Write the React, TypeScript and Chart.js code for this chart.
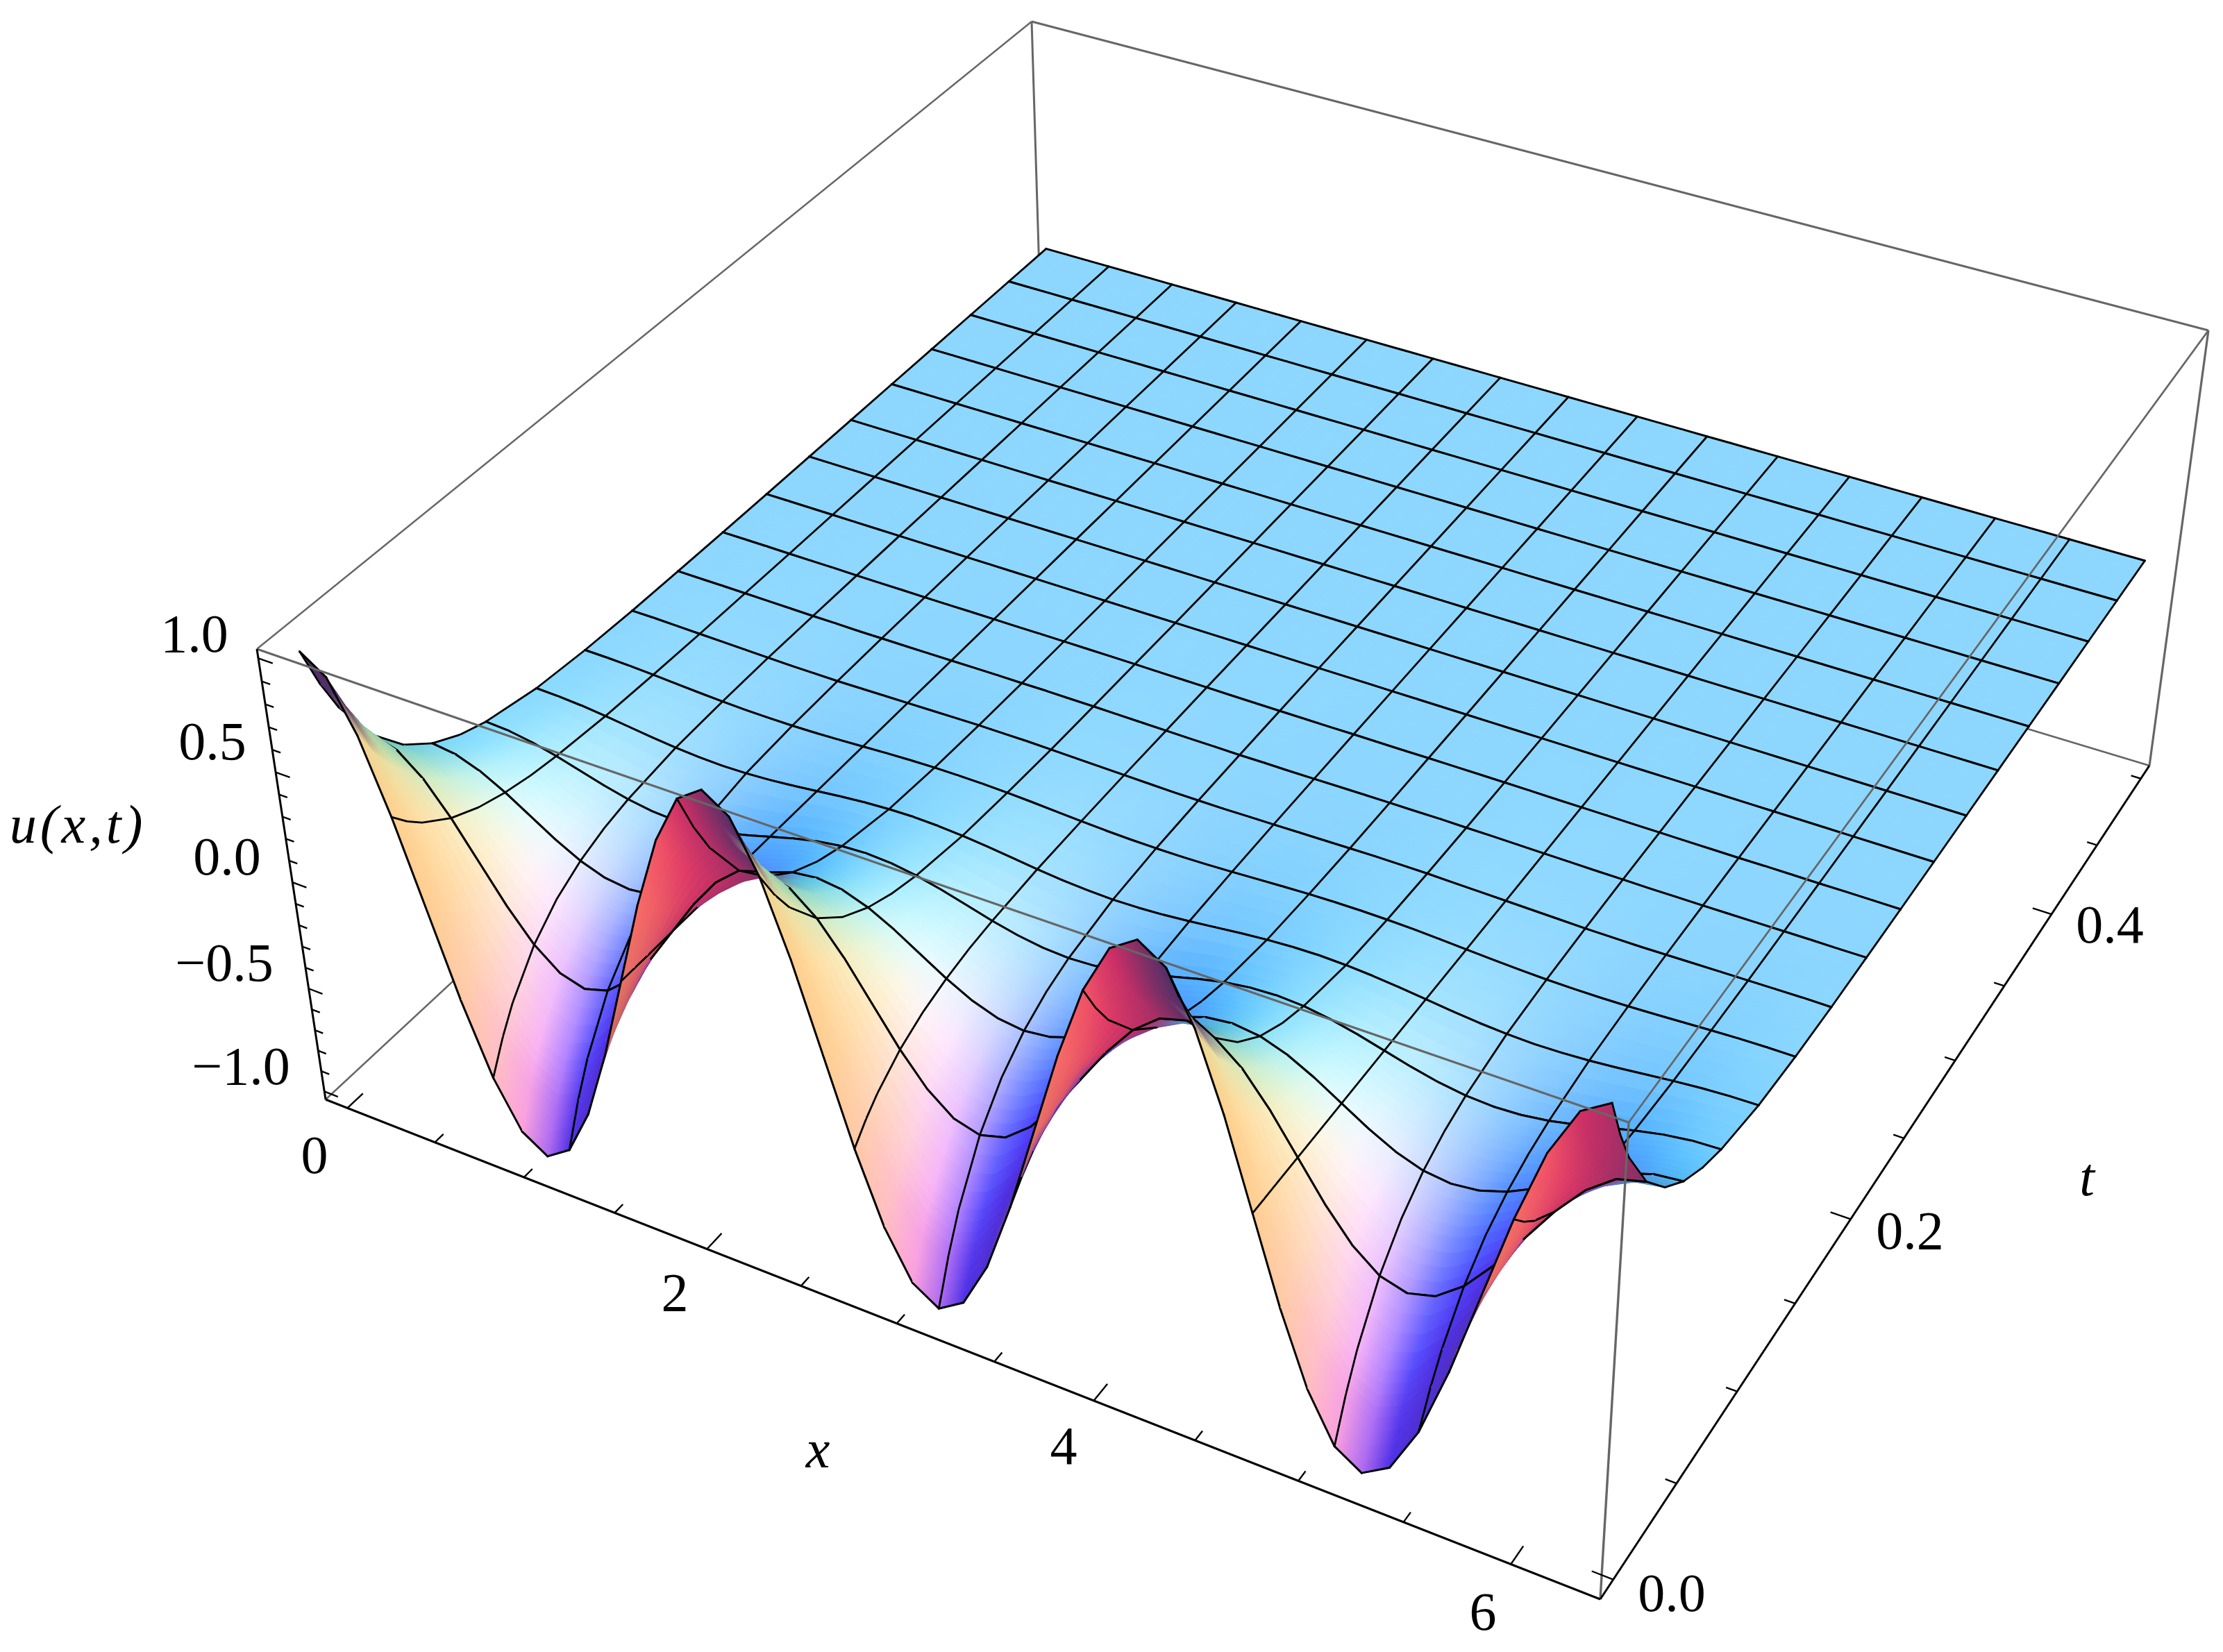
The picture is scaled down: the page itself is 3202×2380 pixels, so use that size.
import React, { useEffect, useRef } from "react";
import { Chart, registerables } from "chart.js";

Chart.register(...registerables);

// ---------- data ----------
const tValues = [0, 0.0078125, 0.015625, 0.03125, 0.046875, 0.0625, 0.078125, 0.09375, 0.125, 0.15625, 0.1875, 0.21875, 0.25, 0.28125, 0.3125, 0.34375, 0.375, 0.40625, 0.4375, 0.46875, 0.5];

// u over one spatial period (2*pi/3), 16 samples, at each t
const u_t00 = [1, 0.924, 0.707, 0.383, 0, -0.383, -0.707, -0.924, -1, -0.924, -0.707, -0.383, 0, 0.383, 0.707, 0.924];
const u_t01 = [0.81, 0.748, 0.573, 0.31, 0, -0.31, -0.573, -0.748, -0.81, -0.748, -0.573, -0.31, 0, 0.31, 0.573, 0.748];
const u_t02 = [0.656, 0.606, 0.464, 0.251, 0, -0.251, -0.464, -0.606, -0.656, -0.606, -0.464, -0.251, 0, 0.251, 0.464, 0.606];
const u_t03 = [0.43, 0.397, 0.304, 0.165, 0, -0.165, -0.304, -0.397, -0.43, -0.397, -0.304, -0.165, 0, 0.165, 0.304, 0.397];
const u_t04 = [0.282, 0.261, 0.199, 0.108, 0, -0.108, -0.199, -0.261, -0.282, -0.261, -0.199, -0.108, 0, 0.108, 0.199, 0.261];
const u_t05 = [0.185, 0.171, 0.131, 0.071, 0, -0.071, -0.131, -0.171, -0.185, -0.171, -0.131, -0.071, 0, 0.071, 0.131, 0.171];
const u_t06 = [0.121, 0.112, 0.086, 0.046, 0, -0.046, -0.086, -0.112, -0.121, -0.112, -0.086, -0.046, 0, 0.046, 0.086, 0.112];
const u_t07 = [0.08, 0.074, 0.057, 0.031, 0, -0.031, -0.057, -0.074, -0.08, -0.074, -0.057, -0.031, 0, 0.031, 0.057, 0.074];
const u_t08 = [0.034, 0.031, 0.024, 0.013, 0, -0.013, -0.024, -0.031, -0.034, -0.031, -0.024, -0.013, 0, 0.013, 0.024, 0.031];
const u_t09 = [0.015, 0.014, 0.011, 0.006, 0, -0.006, -0.011, -0.014, -0.015, -0.014, -0.011, -0.006, 0, 0.006, 0.011, 0.014];
const u_t10 = [0.006, 0.006, 0.004, 0.002, 0, -0.002, -0.004, -0.006, -0.006, -0.006, -0.004, -0.002, 0, 0.002, 0.004, 0.006];
const u_t11 = [0.003, 0.002, 0.002, 0.001, 0, -0.001, -0.002, -0.002, -0.003, -0.002, -0.002, -0.001, 0, 0.001, 0.002, 0.002];
const u_t12 = [0.001, 0.001, 0.001, 0, 0, 0, -0.001, -0.001, -0.001, -0.001, -0.001, 0, 0, 0, 0.001, 0.001];
const u_t13 = [0, 0, 0, 0, 0, 0, 0, 0, 0, 0, 0, 0, 0, 0, 0, 0];
const u_t14 = [0, 0, 0, 0, 0, 0, 0, 0, 0, 0, 0, 0, 0, 0, 0, 0];
const u_t15 = [0, 0, 0, 0, 0, 0, 0, 0, 0, 0, 0, 0, 0, 0, 0, 0];
const u_t16 = [0, 0, 0, 0, 0, 0, 0, 0, 0, 0, 0, 0, 0, 0, 0, 0];
const u_t17 = [0, 0, 0, 0, 0, 0, 0, 0, 0, 0, 0, 0, 0, 0, 0, 0];
const u_t18 = [0, 0, 0, 0, 0, 0, 0, 0, 0, 0, 0, 0, 0, 0, 0, 0];
const u_t19 = [0, 0, 0, 0, 0, 0, 0, 0, 0, 0, 0, 0, 0, 0, 0, 0];
const u_t20 = [0, 0, 0, 0, 0, 0, 0, 0, 0, 0, 0, 0, 0, 0, 0, 0];
const uRows = [u_t00, u_t01, u_t02, u_t03, u_t04, u_t05, u_t06, u_t07, u_t08, u_t09, u_t10, u_t11, u_t12, u_t13, u_t14, u_t15, u_t16, u_t17, u_t18, u_t19, u_t20];

const uTicks = [-1, -0.9, -0.8, -0.7, -0.6, -0.5, -0.4, -0.3, -0.2, -0.1, 0, 0.1, 0.2, 0.3, 0.4, 0.5, 0.6, 0.7, 0.8, 0.9, 1];
const xTicks = [0, 0.5, 1, 1.5, 2, 2.5, 3, 3.5, 4, 4.5, 5, 5.5, 6];
const tTicks = [0, 0.05, 0.1, 0.15, 0.2, 0.25, 0.3, 0.35, 0.4, 0.45, 0.5];

// ---------- ranges / camera ----------
const TWO_PI = Math.PI * 2;
const SAMPLES = 48;
const MESH_T = 0.03125;
const xR = [-0.1257, 6.409];
const tR = [-0.01, 0.51];
const uR = [-1.04, 1.04];
const BOX_H = 0.4;

// box corner -> image position, used to calibrate the projective camera
const corners: [number, number, number, number, number][] = [
  [0, 0, 0, 469, 1584], [1, 0, 0, 2305, 2304], [1, 1, 0, 3096, 1103],
  [0, 0, 1, 370, 935], [1, 0, 1, 2346, 1617], [1, 1, 1, 3181, 476], [0, 1, 1, 1486, 31],
];

function solve(A: number[][], b: number[]) {
  const n = b.length;
  const M = A.map((r, i) => [...r, b[i]]);
  for (let c = 0; c < n; c++) {
    let p = c;
    for (let r = c + 1; r < n; r++) if (Math.abs(M[r][c]) > Math.abs(M[p][c])) p = r;
    [M[c], M[p]] = [M[p], M[c]];
    for (let r = 0; r < n; r++) {
      if (r === c) continue;
      const f = M[r][c] / M[c][c];
      for (let k = c; k <= n; k++) M[r][k] -= f * M[c][k];
    }
  }
  return M.map((r, i) => r[n] / r[i]);
}

function calibrate() {
  const rows: number[][] = [];
  const rhs: number[] = [];
  for (const [x, y, z, X, Y] of corners) {
    rows.push([x, y, z, 1, 0, 0, 0, 0, -X * x, -X * y, -X * z]);
    rhs.push(X);
    rows.push([0, 0, 0, 0, x, y, z, 1, -Y * x, -Y * y, -Y * z]);
    rhs.push(Y);
  }
  const AtA = Array.from({ length: 11 }, () => new Array(11).fill(0));
  const Atb = new Array(11).fill(0);
  rows.forEach((r, i) => {
    for (let a = 0; a < 11; a++) {
      Atb[a] += r[a] * rhs[i];
      for (let b = 0; b < 11; b++) AtA[a][b] += r[a] * r[b];
    }
  });
  return solve(AtA, Atb);
}
const P = calibrate();

const nx = (x: number) => (x - xR[0]) / (xR[1] - xR[0]);
const ny = (t: number) => (t - tR[0]) / (tR[1] - tR[0]);
const nz = (u: number) => (u - uR[0]) / (uR[1] - uR[0]);

function rawProject(a: number, b: number, c: number) {
  const w = P[8] * a + P[9] * b + P[10] * c + 1;
  return { x: (P[0] * a + P[1] * b + P[2] * c + P[3]) / w, y: (P[4] * a + P[5] * b + P[6] * c + P[7]) / w };
}
const residuals = corners.map(([a, b, c, X, Y]) => {
  const p = rawProject(a, b, c);
  return [a, b, c, X - p.x, Y - p.y];
});
function projectN(a: number, b: number, c: number) {
  const p = rawProject(a, b, c);
  let x = p.x, y = p.y;
  for (const [ra, rb, rc, dx, dy] of residuals) {
    const wt = (ra ? a : 1 - a) * (rb ? b : 1 - b) * (rc ? c : 1 - c);
    x += wt * dx;
    y += wt * dy;
  }
  return { x, y };
}
const project = (x: number, t: number, u: number) => projectN(nx(x), ny(t), nz(u));

// ---------- lighting (three coloured lights + ambient) ----------
const cam = [1.3, -2.4, 2];
const norm = (v: number[]) => {
  const l = Math.hypot(v[0], v[1], v[2]) || 1;
  return [v[0] / l, v[1] / l, v[2] / l];
};
const dot = (a: number[], b: number[]) => a[0] * b[0] + a[1] * b[1] + a[2] * b[2];
const cross = (a: number[], b: number[]) => [a[1] * b[2] - a[2] * b[1], a[2] * b[0] - a[0] * b[2], a[0] * b[1] - a[1] * b[0]];
const vw = norm(cam);
const vu = norm([-vw[0] * vw[2], -vw[1] * vw[2], 1 - vw[2] * vw[2]]);
const vr = cross(vu, vw);
const lights = [norm([1.5, -0.5, 2]), norm([1.5, 1.5, 2]), norm([-0.5, 1.5, 2])];
const ambient = [0.312, 0.188, 0.4];

const uAt = (i: number, j: number) => uRows[j][i % 16];
const xAt = (i: number) => (i / SAMPLES) * TWO_PI;

function colorAt(i: number, j: number) {
  const ia = Math.max(i - 1, 0), ib = Math.min(i + 1, SAMPLES);
  const ja = Math.max(j - 1, 0), jb = Math.min(j + 1, tValues.length - 1);
  const dzdx = ((nz(uAt(ib, j)) - nz(uAt(ia, j))) * BOX_H) / (nx(xAt(ib)) - nx(xAt(ia)));
  const dzdy = ((nz(uAt(i, jb)) - nz(uAt(i, ja))) * BOX_H) / (ny(tValues[jb]) - ny(tValues[ja]));
  const n0 = norm([-dzdx, -dzdy, 1]);
  const pos = [nx(xAt(i)) - 0.5, ny(tValues[j]) - 0.5, (nz(uAt(i, j)) - 0.5) * BOX_H];
  const v = [cam[0] - pos[0], cam[1] - pos[1], cam[2] - pos[2]];
  const flip = dot(n0, v) < 0;
  // the shaded tilt is softened on the slope falling away from a ridge (cream rather than olive)
  const soften = dzdx < 0 && dzdy < 0 ? 1 - 0.55 * Math.min(1, -dzdx / 2) : 1;
  let n = norm([-dzdx, -dzdy * soften, 1]);
  if (flip) n = [-n[0], -n[1], -n[2]];
  const nv = [dot(n, vr), dot(n, vu), dot(n, vw)];
  return lights.map((l, k) => Math.min(1, ambient[k] + 0.8 * Math.max(0, dot(nv, l))) * 255);
}

const isMeshT = (t: number) => Math.abs(t / MESH_T - Math.round(t / MESH_T)) < 1e-6;
const rgb = (c: number[]) => `rgb(${c[0] | 0},${c[1] | 0},${c[2] | 0})`;
const mix = (a: number[], b: number[], s: number) => a.map((v, k) => v + (b[k] - v) * s);
const lerpP = (a: any, b: any, s: number) => ({ x: a.x + (b.x - a.x) * s, y: a.y + (b.y - a.y) * s });

const BANDS = 4;
const surfacePlugin = {
  id: "surface",
  afterDatasetDraw(chart: any, args: any) {
    const ds = chart.data.datasets[args.index];
    if (ds.stripIndex === undefined) return;
    const j = ds.stripIndex;
    const pts = args.meta.data;
    const ctx = chart.ctx;
    const meshF = isMeshT(tValues[j]);
    const meshB = isMeshT(tValues[j + 1]);
    ctx.save();
    ctx.lineCap = "round";
    const black = (a: any, b: any, w: number) => {
      ctx.strokeStyle = "#000";
      ctx.lineWidth = w;
      ctx.beginPath();
      ctx.moveTo(a.x, a.y);
      ctx.lineTo(b.x, b.y);
      ctx.stroke();
    };
    for (let i = 0; i < SAMPLES; i++) {
      const a = pts[2 * i], b = pts[2 * i + 1], c = pts[2 * i + 3], d = pts[2 * i + 2];
      const cA = colorAt(i, j), cB = colorAt(i, j + 1), cC = colorAt(i + 1, j + 1), cD = colorAt(i + 1, j);
      for (let s = 0; s < BANDS; s++) {
        const s0 = s / BANDS, s1 = (s + 1) / BANDS, sm = (s0 + s1) / 2;
        const l0 = lerpP(a, b, s0), l1 = lerpP(a, b, s1), r0 = lerpP(d, c, s0), r1 = lerpP(d, c, s1);
        const gl = lerpP(a, b, sm), gr = lerpP(d, c, sm);
        // colour isolines run along the x = const edges of the cell
        const ex = (l1.x - l0.x + r1.x - r0.x) / 2, ey = (l1.y - l0.y + r1.y - r0.y) / 2;
        const nxp = -ey, nyp = ex;
        const q = ((gr.x - gl.x) * nxp + (gr.y - gl.y) * nyp) / (nxp * nxp + nyp * nyp || 1);
        const g = ctx.createLinearGradient(gl.x, gl.y, gl.x + nxp * q, gl.y + nyp * q);
        g.addColorStop(0, rgb(mix(cA, cB, sm)));
        g.addColorStop(1, rgb(mix(cD, cC, sm)));
        ctx.fillStyle = g;
        ctx.strokeStyle = g;
        ctx.lineWidth = 1;
        ctx.beginPath();
        ctx.moveTo(l0.x, l0.y);
        ctx.lineTo(l1.x, l1.y);
        ctx.lineTo(r1.x, r1.y);
        ctx.lineTo(r0.x, r0.y);
        ctx.closePath();
        ctx.fill();
        ctx.stroke();
      }
      if (i % 3 === 0) black(a, b, 2.8);
      if (i + 1 === SAMPLES) black(d, c, 2.8);
      if (meshF) black(a, d, 3);
      if (meshB) black(b, c, 3);
    }
    ctx.restore();
  },
  afterDraw(chart: any) {
    const ctx = chart.ctx;
    ctx.save();
    ctx.fillStyle = "#000";
    ctx.textAlign = "center";
    ctx.textBaseline = "middle";
    ctx.font = "78px 'Liberation Serif'";
    for (const [txt, x, y] of tickLabels) ctx.fillText(txt, x, y);
    ctx.font = "italic 78px 'Liberation Serif'";
    (ctx as any).letterSpacing = "5px";
    ctx.fillText("u(x,t)", 112, 1193);
    (ctx as any).letterSpacing = "0px";
    ctx.fillText("x", 1178, 2093);
    ctx.fillText("t", 3006, 1701);
    ctx.restore();
  },
};

const tickLabels: [string, number, number][] = [
  ["1.0", 280, 919], ["0.5", 306, 1074], ["0.0", 327, 1240], ["\u22120.5", 323, 1393], ["\u22121.0", 347, 1542],
  ["0", 453, 1670], ["2", 972, 1868], ["4", 1532, 2089], ["6", 2136, 2328],
  ["0.0", 2408, 2301], ["0.2", 2751, 1779], ["0.4", 3039, 1338],
];

function lineSet(data: any[], color: string, width: number, order: number) {
  return { type: "scatter", data, showLine: true, borderColor: color, borderWidth: width, pointRadius: 0, fill: false, order };
}

function buildDatasets() {
  const sets: any[] = [];
  const GRAY = "#666666";
  const c = (a: number, b: number, d: number) => projectN(a, b, d);
  // back / hidden edges, behind the surface
  sets.push(lineSet([c(0, 0, 0), c(0, 1, 0)], GRAY, 2.4, 1000));
  sets.push(lineSet([c(0, 1, 0), c(1, 1, 0)], GRAY, 2.6, 1000));
  sets.push(lineSet([c(0, 1, 0), c(0, 1, 1)], GRAY, 3, 1000));
  sets.push(lineSet([c(0, 0, 1), c(0, 1, 1)], GRAY, 2.4, 1000));
  sets.push(lineSet([c(0, 1, 1), c(1, 1, 1)], GRAY, 3, 1000));
  sets.push(lineSet([c(1, 1, 0), c(1, 1, 1)], GRAY, 3.2, 1000));
  // surface strips, far strip drawn first
  for (let j = 0; j < tValues.length - 1; j++) {
    const data: any[] = [];
    for (let i = 0; i <= SAMPLES; i++) {
      data.push(project(xAt(i), tValues[j], uAt(i, j)));
      data.push(project(xAt(i), tValues[j + 1], uAt(i, j + 1)));
    }
    sets.push({ type: "scatter", data, showLine: false, pointRadius: 0, order: 10 + j, stripIndex: j });
  }
  // front edges over the surface
  sets.push(lineSet([c(0, 0, 1), c(1, 0, 1)], GRAY, 3.2, 1));
  sets.push(lineSet([c(1, 0, 1), c(1, 1, 1)], GRAY, 2.8, 1));
  sets.push(lineSet([c(1, 0, 0), c(1, 0, 1)], GRAY, 3.4, 1));
  // axes with ticks
  sets.push(lineSet([c(0, 0, 0), c(0, 0, 1)], "#000", 3, 0));
  sets.push(lineSet([c(0, 0, 0), c(1, 0, 0)], "#000", 3, 0));
  sets.push(lineSet([c(1, 0, 0), c(1, 1, 0)], "#000", 3, 0));
  for (const u of uTicks) {
    const major = Math.abs(u * 2 - Math.round(u * 2)) < 1e-6;
    sets.push(lineSet([c(0, 0, nz(u)), c(major ? 0.012 : 0.007, 0, nz(u))], "#000", 2.4, 0));
  }
  for (const x of xTicks) {
    const major = Number.isInteger(x / 2);
    sets.push(lineSet([c(nx(x), 0, 0), c(nx(x), major ? 0.018 : 0.01, 0)], "#000", 2.4, 0));
  }
  for (const t of tTicks) {
    const major = Math.abs(t * 5 - Math.round(t * 5)) < 1e-6;
    sets.push(lineSet([c(1, ny(t), 0), c(major ? 0.985 : 0.992, ny(t), 0)], "#000", 2.4, 0));
  }
  return sets;
}

export default function App() {
  const ref = useRef<HTMLCanvasElement>(null);
  useEffect(() => {
    const chart = new Chart(ref.current as HTMLCanvasElement, {
      type: "scatter",
      data: { datasets: buildDatasets() },
      options: {
        responsive: false,
        animation: false,
        devicePixelRatio: 1,
        layout: { padding: 0 },
        plugins: { legend: { display: false }, tooltip: { enabled: false }, title: { display: false } },
        scales: {
          x: { type: "linear", min: 0, max: 3202, display: false },
          y: { type: "linear", min: 0, max: 2380, reverse: true, display: false },
        },
      },
      plugins: [surfacePlugin],
    } as any);
    return () => chart.destroy();
  }, []);
  return (
    <canvas
      ref={ref}
      width={3202}
      height={2380}
      style={{ position: "absolute", left: 0, top: 0, display: "block", background: "#fff" }}
    />
  );
}
